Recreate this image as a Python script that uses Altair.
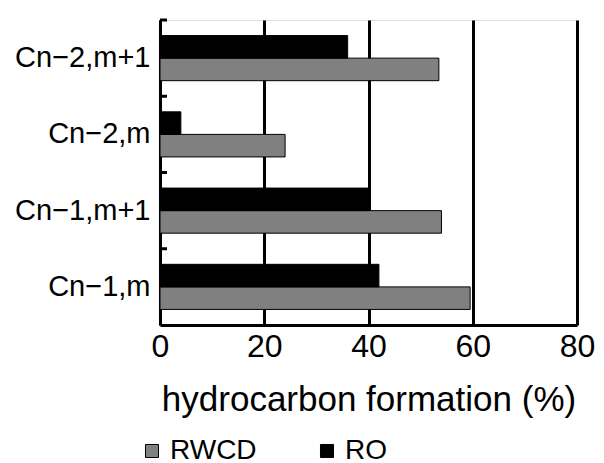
import altair as alt
import pandas as pd

categories = ["Cn\u22122,m+1", "Cn\u22122,m", "Cn\u22121,m+1", "Cn\u22121,m"]
series_names = ["RWCD", "RO"]
rwcd_values = [53.5, 24.0, 54.0, 59.5]
ro_values = [36.0, 4.0, 40.0, 42.0]
x_ticks = [0, 20, 40, 60, 80]

rows = []
for c, a, b in zip(categories, rwcd_values, ro_values):
    rows.append({"cat": c, "series": "RWCD", "value": a})
    rows.append({"cat": c, "series": "RO", "value": b})
df = pd.DataFrame(rows)
cat_df = pd.DataFrame({"cat": categories})

FONT = "Liberation Sans"

y_scale = alt.Scale(domain=categories, paddingInner=0, paddingOuter=0)

bars = alt.Chart(df).mark_bar(stroke="black", strokeWidth=1).encode(
    y=alt.Y("cat:N", sort=categories, scale=y_scale,
            axis=alt.Axis(title=None, labelFontSize=29, labelFont=FONT, labelColor="black",
                          ticks=False, domainColor="black", domainWidth=3,
                          labelPadding=10, grid=False, labelLimit=300)),
    yOffset=alt.YOffset("series:N", scale=alt.Scale(domain=["RO", "RWCD"], paddingOuter=0.69, paddingInner=0)),
    x=alt.X("value:Q", scale=alt.Scale(domain=[0, 80]),
            axis=alt.Axis(values=x_ticks, title="hydrocarbon formation (%)",
                          titleFontSize=35, titleFont=FONT, titleFontWeight="normal",
                          titleColor="black", titlePadding=20,
                          labelFontSize=32, labelFont=FONT, labelColor="black",
                          labelPadding=6, ticks=False, domainColor="black", domainWidth=3,
                          grid=True, gridColor="black", gridWidth=3, gridOpacity=1,
                          labelFlush=False)),
    color=alt.Color("series:N", scale=alt.Scale(domain=series_names, range=["#808080", "#000000"]),
                    legend=alt.Legend(title=None, orient="none", direction="horizontal",
                                      legendX=-22, legendY=417, labelFontSize=28, labelFont=FONT,
                                      labelColor="black", symbolType="square", symbolSize=170,
                                      symbolStrokeColor="black", symbolStrokeWidth=1,
                                      labelOffset=4, columnPadding=56)),
)

ticks = alt.Chart(cat_df).mark_rule(color="black", strokeWidth=3).encode(
    y=alt.Y("cat:N", sort=categories, scale=y_scale, bandPosition=0),
    x=alt.value(0),
    x2=alt.value(7),
)

chart = alt.layer(bars, ticks).properties(
    width=417, height=305,
    autosize=alt.AutoSizeParams(type="none"),
    padding={"left": 160, "top": 20, "right": 27, "bottom": 138},
).configure_view(stroke=None).configure(background="white")

chart.save("out.html", embed_options={"renderer": "svg", "actions": False})
